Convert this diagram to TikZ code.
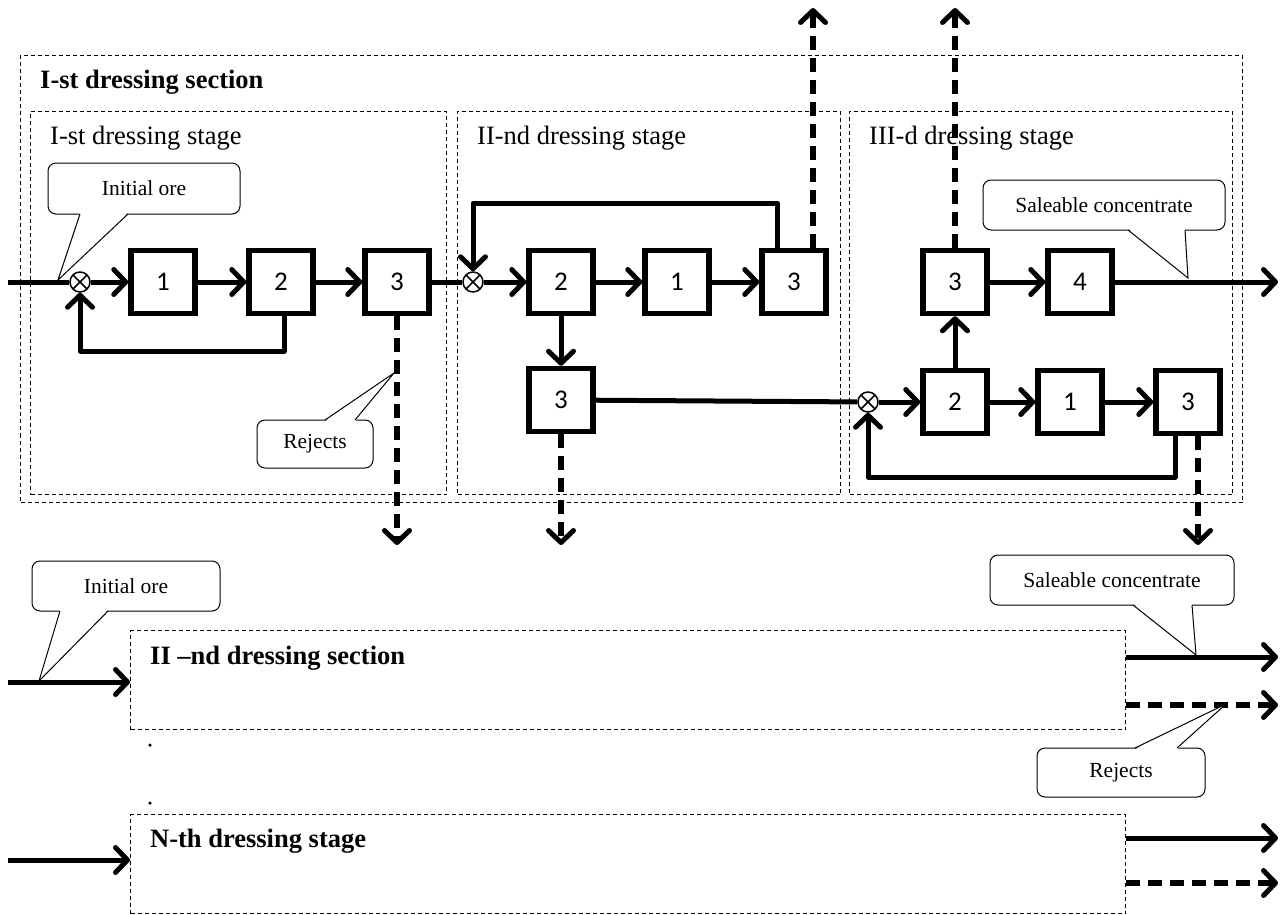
\documentclass[tikz,border=0pt]{standalone}
\usepackage{fontspec}
\setmainfont{Liberation Serif}
\newfontfamily\numfont{Carlito}
\usetikzlibrary{arrows.meta,calc}
\begin{document}
\begin{tikzpicture}[x=1pt,y=-1pt,
  tipA/.tip={Straight Barb[length=12pt,width=25pt,round,line width=5pt]},
  flow/.style={line width=5pt,line join=round,-{tipA}},
  plain/.style={line width=5pt},
  rej/.style={line width=6pt,dash pattern=on 14pt off 8pt,-{tipA}},
  unit/.style={draw,line width=5.5pt,minimum width=64pt,minimum height=63pt,inner sep=0pt,fill=white,font=\numfont\fontsize{27}{27}\selectfont},
  mix/.style={draw,circle,line width=1.5pt,minimum size=20pt,inner sep=0pt,fill=white,
    path picture={\draw[line width=1.5pt] (path picture bounding box.north west)--(path picture bounding box.south east) (path picture bounding box.north east)--(path picture bounding box.south west);}},
  frame/.style={draw,line width=1pt,dash pattern=on 4pt off 3pt,inner sep=0pt,anchor=north west},
  title/.style={anchor=west,inner sep=0pt,font=\bfseries\fontsize{26.5}{28}\selectfont},
  stagelbl/.style={anchor=west,inner sep=0pt,font=\fontsize{26.5}{28}\selectfont},
  callout/.style={draw,line width=1pt,rounded corners=8pt,fill=white,inner sep=0pt,font=\fontsize{21.5}{22}\selectfont},
  ptr/.style={line width=1pt},
  dot/.style={circle,fill=black,inner sep=0pt,minimum size=3.5pt}
]
\useasboundingbox (0,0) rectangle (1282,915);

% frames
\node[frame,minimum width=1222pt,minimum height=447pt] (sec1) at (20,55) {};
\node[frame,minimum width=416pt,minimum height=383pt] (st1) at (30,111) {};
\node[frame,minimum width=383pt,minimum height=383pt] (st2) at (457,111) {};
\node[frame,minimum width=383pt,minimum height=383pt] (st3) at (849,111) {};
\node[frame,minimum width=995pt,minimum height=99pt] (sec2) at (130,630) {};
\node[frame,minimum width=995pt,minimum height=99pt] (secN) at (130,814) {};

% labels
\node[title] (tsec1) at (40,82) {I-st dressing section};
\node[stagelbl] (tst1) at (50,138) {I-st dressing stage};
\node[stagelbl] (tst2) at (477,138) {II-nd dressing stage};
\node[stagelbl] (tst3) at (869,138) {III-d dressing stage};
\node[title] (tsec2) at (150,658) {II --nd dressing section};
\node[title] (tsecN) at (150,841) {N-th dressing stage};
\node[dot] (d1) at (150,745) {};
\node[dot] (d2) at (150,803) {};

% stage 1
\node[mix] (mixA) at (80,282) {};
\node[unit] (b11) at (163,282) {1};
\node[unit] (b12) at (281,282) {2};
\node[unit] (b13) at (397,282) {3};
% stage 2
\node[mix] (mixB) at (473,282) {};
\node[unit] (b22) at (561,282) {2};
\node[unit] (b21) at (677,282) {1};
\node[unit] (b23) at (794,282) {3};
\node[unit] (b2r) at (561,400) {3};
% stage 3
\node[unit] (b33) at (955,282) {3};
\node[unit] (b34) at (1080,282) {4};
\node[mix] (mixC) at (868,402) {};
\node[unit] (b32) at (955,402) {2};
\node[unit] (b31) at (1070,402) {1};
\node[unit] (b3r) at (1188,402) {3};

% coordinates
\coordinate (in1) at (8,282);
\coordinate (r1) at (284,351);
\coordinate (r2) at (777,203);
\coordinate (r3) at (1175,477);
\coordinate (up1) at (813,8);
\coordinate (up2) at (955,8);
\coordinate (dn1) at (397,545);
\coordinate (dn2) at (561,545);
\coordinate (dn3) at (1198,545);
\coordinate (out1) at (1278,282);
\coordinate (in2) at (8,682);
\coordinate (in3) at (8,860);
\coordinate (o2a) at (1278,657);
\coordinate (o2b) at (1278,705);
\coordinate (oNa) at (1278,838);
\coordinate (oNb) at (1278,883);

% connectors stage 1
\draw[plain] (in1) -- (mixA);
\draw[flow] (mixA) -- (b11);
\draw[flow] (b11) -- (b12);
\draw[flow] (b12) -- (b13);
\draw[flow] (b12.south -| r1) -- (r1) -| (mixA);
\draw[rej] (b13.south) -- (dn1);
% stage 2
\draw[plain] (b13) -- (mixB);
\draw[flow] (mixB) -- (b22);
\draw[flow] (b22) -- (b21);
\draw[flow] (b21) -- (b23);
\draw[flow] (b23.north -| r2) -- (r2) -| (mixB);
\draw[rej] (b23.north -| up1) -- (up1);
\draw[flow] (b22) -- (b2r);
\draw[rej] (b2r.south) -- (dn2);
\draw[plain] (b2r) -- (mixC);
% stage 3
\draw[flow] (mixC) -- (b32);
\draw[flow] (b32) -- (b31);
\draw[flow] (b31) -- (b3r);
\draw[flow] (b3r.south -| r3) -- (r3) -| (mixC);
\draw[rej] (b3r.south -| dn3) -- (dn3);
\draw[flow] (b32) -- (b33);
\draw[rej] (b33.north -| up2) -- (up2);
\draw[flow] (b33) -- (b34);
\draw[flow] (b34) -- (out1);
% lower sections
\draw[flow] (in2) -- (in2 -| sec2.west);
\draw[flow] (o2a -| sec2.east) -- (o2a);
\draw[rej] (o2b -| sec2.east) -- (o2b);
\draw[flow] (in3) -- (in3 -| secN.west);
\draw[flow] (oNa -| secN.east) -- (oNa);
\draw[rej] (oNb -| secN.east) -- (oNb);

% callouts
\node[callout,minimum width=192pt,minimum height=51pt] (c1) at (144,188.5) {Initial ore};
\coordinate (t1) at (58,280);
\fill[white] (80,212.5) -- (t1) -- (128,212.5) -- cycle;
\draw[ptr] (80,214) -- (t1) -- (128,214);

\node[callout,minimum width=116pt,minimum height=48pt] (c2) at (315,444) {Rejects};
\coordinate (t2) at (394,373);
\fill[white] (325,421.5) -- (t2) -- (355,421.5) -- cycle;
\draw[ptr] (325,420) -- (t2) -- (355,420);

\node[callout,minimum width=242pt,minimum height=50pt] (c3) at (1104,205) {Saleable concentrate};
\coordinate (t3) at (1188,278);
\fill[white] (1128,228.5) -- (t3) -- (1185,228.5) -- cycle;
\draw[ptr] (1128,230) -- (t3) -- (1185,230);

\node[callout,minimum width=188pt,minimum height=50pt] (c4) at (126,586) {Initial ore};
\coordinate (t4) at (39,681);
\fill[white] (60,609.5) -- (t4) -- (108,609.5) -- cycle;
\draw[ptr] (60,611) -- (t4) -- (108,611);

\node[callout,minimum width=244pt,minimum height=50pt] (c5) at (1112,580) {Saleable concentrate};
\coordinate (t5) at (1196,655);
\fill[white] (1133,603.5) -- (t5) -- (1192,603.5) -- cycle;
\draw[ptr] (1133,605) -- (t5) -- (1192,605);

\node[callout,minimum width=168pt,minimum height=49pt] (c6) at (1121,772.5) {Rejects};
\coordinate (t6) at (1226,704);
\fill[white] (1135,749.5) -- (t6) -- (1177,749.5) -- cycle;
\draw[ptr] (1135,748) -- (t6) -- (1177,748);
\end{tikzpicture}
\end{document}
